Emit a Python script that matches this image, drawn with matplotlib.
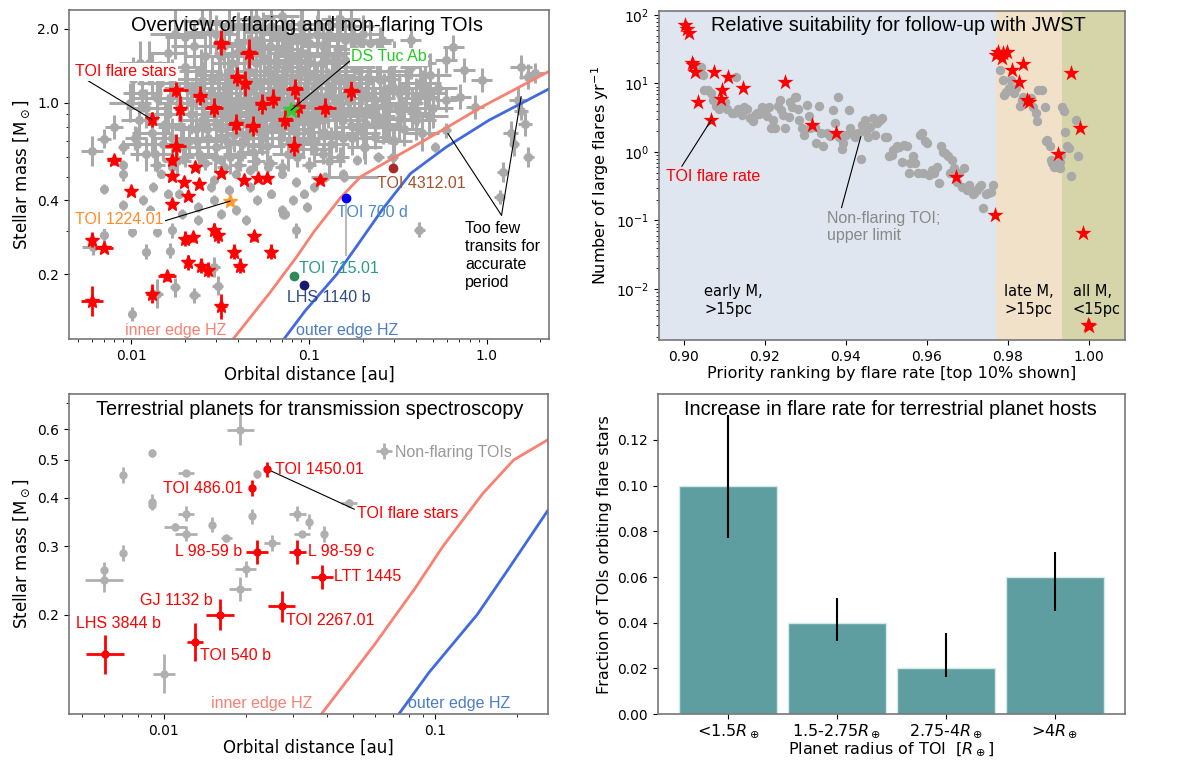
import numpy as np
import matplotlib.pyplot as plt
from matplotlib.ticker import FixedLocator, FixedFormatter, NullFormatter

# ----------------------------
# DATA: overview of flaring and non-flaring TOIs (top left)
# orbital distance [au], stellar mass [Msun], errors in units of 0.01 dex
# ----------------------------
grey_a = [
    0.0060, 0.0080, 0.0090, 0.0070, 0.0090, 0.0090, 0.0070, 0.0090, 0.00607, 0.0070,
    0.0101, 0.0121, 0.0101, 0.0140, 0.0226, 0.0176, 0.0306, 0.0292, 0.0164, 0.0140,
    0.0168, 0.0193, 0.0238, 0.0238, 0.0292, 0.0321, 0.0386, 0.0443, 0.0509, 0.0613,
    0.0703, 0.0847, 0.0711, 0.0465, 0.0352, 0.0279, 0.0292, 0.0386, 0.0465, 0.0585,
    0.0703, 0.0847, 0.093, 0.1066, 0.0809, 0.0973, 0.0736, 0.0243, 0.0321, 0.0168,
    0.0146, 0.0133, 0.0160, 0.0116, 0.0127, 0.0185, 0.1225, 0.1545, 0.186, 0.245,
    0.295, 0.417, 0.514, 0.590, 1.18, 1.23, 1.36, 1.49, 1.56, 1.71,
    1.87, 1.56, 1.42, 1.71, 1.64, 0.937, 0.745, 0.86, 0.71, 0.59,
    0.469, 0.43, 0.372, 0.295, 0.59, 0.647, 0.45, 0.2566, 0.372, 0.195,
    0.25, 0.295, 0.234, 0.32, 0.407, 0.27, 0.234, 0.204, 0.295, 0.186,
    0.245, 0.158,
    0.012, 0.013, 0.014, 0.015, 0.016, 0.017, 0.018, 0.019, 0.020, 0.021,
    0.022, 0.023, 0.024, 0.025, 0.026, 0.027, 0.028, 0.029, 0.030, 0.031,
    0.032, 0.033, 0.034, 0.035, 0.036, 0.037, 0.038, 0.039, 0.040, 0.042,
    0.043, 0.044, 0.045, 0.046, 0.048, 0.049, 0.050, 0.052, 0.053, 0.055,
    0.056, 0.058, 0.060, 0.062, 0.063, 0.065, 0.067, 0.069, 0.070, 0.072,
    0.074, 0.076, 0.078, 0.080, 0.082, 0.085, 0.087, 0.089, 0.092, 0.095,
    0.098, 0.100, 0.104, 0.107, 0.110, 0.114, 0.118, 0.122, 0.126, 0.130,
    0.135, 0.140, 0.145, 0.150, 0.156, 0.162, 0.170, 0.178, 0.186, 0.195,
    0.205, 0.215, 0.225, 0.24, 0.26, 0.28, 0.30, 0.33, 0.36, 0.40,
    0.45, 0.50, 0.016, 0.020, 0.025, 0.030, 0.035, 0.040, 0.045, 0.050,
    0.055, 0.060, 0.065, 0.070, 0.075, 0.080, 0.090, 0.100, 0.110, 0.120,
    0.130, 0.140, 0.160, 0.180, 0.200, 0.220, 0.012, 0.013, 0.011, 0.0115,
    0.0105, 0.014, 0.020, 0.026, 0.033, 0.040, 0.050, 0.060, 0.070, 0.085,
    0.100, 0.120, 0.150, 0.017, 0.023, 0.030, 0.036, 0.041, 0.047, 0.054,
    0.061, 0.068, 0.077, 0.086, 0.094, 0.105, 0.116, 0.128, 0.142, 0.155,
    0.175, 0.190, 0.210, 0.230, 0.250, 0.270, 0.290, 0.320, 0.350, 0.380,
    0.420, 0.470, 0.025, 0.050, 0.090, 0.150, 0.040, 0.070,
    0.0125, 0.0135, 0.0145, 0.0155, 0.0165, 0.0175, 0.0185, 0.0195, 0.0205, 0.0215,
    0.0225, 0.0235, 0.0245, 0.0255, 0.0265, 0.0275, 0.0285, 0.0295, 0.0305, 0.0315,
    0.0325, 0.0335, 0.0345, 0.0355, 0.0365, 0.0375, 0.0385, 0.0395, 0.041, 0.043,
    0.045, 0.047, 0.049, 0.051, 0.053, 0.055, 0.057, 0.059, 0.061, 0.064,
    0.066, 0.068, 0.071, 0.073, 0.075, 0.079, 0.081, 0.084, 0.088, 0.091,
    0.093, 0.096, 0.099, 0.102, 0.106, 0.109, 0.112, 0.116, 0.120, 0.124,
    0.128, 0.133, 0.138, 0.143, 0.148, 0.154, 0.160, 0.166, 0.172, 0.180,
    0.190, 0.200, 0.210, 0.220, 0.235, 0.25, 0.265, 0.28, 0.30, 0.32,
    0.34, 0.37, 0.40, 0.43, 0.48, 0.53, 0.0098, 0.0102, 0.0108, 0.0112,
]
grey_m = [
    0.637, 0.798, 0.661, 0.715, 0.557, 0.515, 0.447, 0.382, 0.258, 0.288,
    0.297, 0.247, 0.138, 0.167, 0.164, 0.177, 0.180, 0.214, 0.250, 0.297,
    0.302, 0.353, 0.332, 0.376, 0.401, 0.353, 0.365, 0.332, 0.401, 0.427,
    0.365, 0.302, 0.353, 0.454, 0.440, 0.454, 0.483, 0.515, 0.531, 0.548,
    0.515, 0.476, 0.427, 0.454, 0.401, 0.376, 0.353, 0.602, 0.583, 0.548,
    0.515, 0.454, 0.427, 0.401, 0.365, 0.427, 0.499, 0.515, 0.583, 0.602,
    0.602, 0.304, 0.661, 0.773, 0.413, 0.523, 0.750, 1.03, 1.40, 1.28,
    1.32, 0.93, 0.68, 0.60, 0.82, 1.24, 1.36, 0.963, 1.06, 1.03,
    1.06, 1.21, 1.40, 1.49, 1.49, 1.69, 1.45, 1.80, 1.80, 1.75,
    1.24, 1.16, 1.03, 0.93, 0.905, 0.798, 0.727, 0.661, 0.705, 0.798,
    0.877, 0.50,
    0.62, 0.75, 1.05, 0.68, 0.90, 1.25, 0.58, 0.80, 1.40, 0.70,
    1.00, 1.15, 0.62, 0.85, 1.55, 0.72, 1.10, 0.95, 0.66, 1.30,
    0.78, 1.70, 0.88, 1.05, 0.60, 1.45, 0.74, 1.20, 0.92, 0.68,
    1.60, 0.82, 1.10, 1.35, 0.63, 0.98, 1.80, 0.76, 1.22, 0.88,
    1.50, 0.67, 1.05, 0.80, 1.30, 0.95, 1.65, 0.72, 1.15, 0.86,
    1.40, 0.62, 1.00, 1.25, 0.78, 1.55, 0.90, 1.10, 0.70, 1.35,
    0.84, 1.75, 1.00, 0.65, 1.20, 0.92, 1.45, 0.76, 1.08, 0.58,
    1.30, 0.88, 1.60, 1.00, 0.72, 1.20, 0.93, 1.40, 0.80, 1.10,
    0.66, 1.28, 0.95, 1.50, 0.82, 1.15, 0.70, 1.00, 1.30, 0.85,
    1.10, 0.95, 1.60, 1.85, 1.20, 1.90, 1.30, 1.75, 1.55, 1.45,
    1.95, 1.70, 1.20, 1.90, 1.60, 1.85, 1.60, 1.45, 1.90, 1.70,
    1.90, 1.35, 1.80, 1.65, 1.90, 1.75, 0.95, 1.30, 0.85, 1.10,
    0.72, 0.56, 0.60, 0.57, 0.55, 0.56, 0.58, 0.57, 0.55, 0.60,
    0.56, 0.62, 0.60, 0.72, 0.78, 0.82, 0.95, 1.02, 0.85, 0.72,
    0.92, 1.05, 0.82, 0.68, 0.97, 0.85, 1.05, 0.95, 0.74, 0.85,
    0.72, 0.90, 0.82, 1.05, 1.25, 0.98, 1.35, 0.86, 1.15, 0.95,
    1.20, 0.88, 2.15, 2.20, 2.10, 2.20, 2.05, 2.25,
    1.45, 0.62, 1.20, 0.82, 1.05, 1.90, 1.00, 0.66, 1.15, 0.90,
    1.70, 0.70, 1.35, 1.00, 0.78, 1.95, 1.25, 0.60, 1.05, 1.55,
    0.92, 1.15, 0.70, 2.10, 1.20, 0.85, 1.00, 1.60, 0.62, 1.25,
    0.75, 2.00, 1.15, 0.90, 1.65, 1.05, 0.78, 1.35, 2.05, 0.92,
    1.45, 0.80, 1.25, 1.80, 0.95, 1.50, 1.10, 0.75, 1.30, 2.00,
    0.88, 1.15, 1.55, 0.72, 1.30, 0.95, 2.10, 1.25, 0.85, 1.55,
    1.15, 0.68, 1.05, 1.85, 1.25, 0.90, 1.50, 1.05, 2.05, 1.15,
    1.35, 0.75, 1.05, 1.45, 0.88, 1.65, 1.10, 0.80, 1.45, 1.10,
    0.78, 1.55, 1.05, 0.75, 1.30, 1.15, 1.00, 1.25, 0.68, 1.45,
]
grey_da = [
    6, 5, 3, 4, 2, 2, 1, 2, 6, 2,
    2, 2, 2, 3, 3, 3, 3, 3, 2, 2,
    2, 2, 2, 2, 2, 2, 2, 2, 2, 2,
    2, 2, 2, 2, 2, 2, 2, 2, 2, 2,
    2, 2, 2, 2, 2, 2, 2, 2, 2, 2,
    2, 2, 2, 2, 2, 2, 3, 2, 2, 3,
    3, 3, 2, 3, 3, 3, 4, 5, 6, 5,
    5, 4, 3, 3, 4, 6, 6, 5, 6, 6,
    6, 6, 6, 6, 6, 6, 6, 6, 6, 6,
    6, 6, 6, 6, 6, 6, 6, 5, 5, 6,
    6, 19,
    9, 11, 13, 10, 12, 11, 8, 13, 11, 10,
    12, 11, 9, 13, 12, 10, 13, 11, 9, 12,
    11, 12, 13, 11, 9, 12, 10, 13, 11, 10,
    12, 11, 13, 12, 9, 13, 12, 11, 13, 12,
    12, 10, 13, 11, 13, 12, 12, 10, 13, 11,
    12, 9, 13, 12, 11, 12, 13, 12, 10, 12,
    11, 12, 13, 10, 13, 12, 12, 11, 13, 9,
    12, 12, 12, 13, 11, 13, 12, 12, 11, 12,
    10, 12, 12, 12, 11, 12, 10, 12, 12, 11,
    12, 11, 11, 11, 12, 11, 12, 12, 12, 12,
    11, 12, 13, 11, 12, 12, 12, 12, 11, 12,
    11, 12, 12, 12, 11, 12, 11, 12, 10, 11,
    6, 4, 5, 4, 4, 4, 5, 4, 4, 5,
    4, 5, 5, 11, 12, 12, 13, 13, 12, 11,
    13, 13, 12, 10, 13, 12, 13, 12, 11, 12,
    11, 12, 11, 12, 12, 12, 12, 11, 12, 11,
    12, 11, 11, 11, 11, 11, 11, 10,
    12, 10, 13, 11, 12, 14, 11, 10, 13, 12,
    13, 10, 12, 11, 10, 13, 12, 9, 11, 13,
    12, 11, 10, 13, 12, 11, 12, 13, 10, 12,
    11, 13, 12, 11, 13, 12, 10, 12, 13, 11,
    12, 11, 12, 13, 11, 12, 12, 10, 12, 13,
    11, 12, 13, 10, 12, 11, 13, 12, 11, 12,
    12, 10, 11, 13, 12, 11, 12, 11, 13, 12,
    12, 10, 11, 12, 11, 13, 12, 10, 12, 11,
    10, 12, 11, 10, 12, 11, 12, 11, 9, 12,
]
grey_dm = [
    6, 5, 3, 4, 2, 3, 2, 2, 3, 3,
    2, 3, 3, 6, 3, 4, 4, 4, 3, 2,
    3, 2, 2, 2, 2, 2, 2, 2, 2, 2,
    2, 3, 2, 2, 2, 2, 2, 2, 2, 2,
    2, 2, 2, 2, 2, 2, 2, 2, 2, 2,
    2, 2, 2, 2, 2, 2, 2, 2, 2, 2,
    3, 3, 2, 3, 3, 4, 5, 5, 5, 5,
    4, 4, 5, 4, 5, 5, 5, 5, 5, 5,
    5, 5, 5, 5, 5, 5, 5, 5, 5, 5,
    5, 5, 5, 5, 5, 5, 5, 5, 5, 5,
    5, 2,
    7, 8, 9, 7, 8, 8, 6, 9, 8, 7,
    9, 8, 7, 8, 9, 7, 9, 8, 7, 9,
    8, 9, 8, 9, 7, 8, 7, 9, 8, 7,
    9, 8, 9, 8, 7, 9, 9, 8, 9, 8,
    9, 7, 9, 8, 9, 8, 9, 7, 9, 8,
    9, 7, 9, 8, 8, 9, 8, 9, 7, 9,
    8, 9, 9, 7, 9, 8, 9, 8, 9, 7,
    9, 8, 9, 9, 7, 9, 8, 9, 8, 9,
    7, 9, 8, 9, 8, 9, 7, 8, 9, 8,
    9, 8, 8, 8, 9, 8, 9, 8, 9, 9,
    8, 9, 9, 8, 9, 8, 9, 9, 8, 9,
    8, 9, 8, 9, 8, 9, 8, 9, 8, 8,
    5, 3, 4, 3, 3, 3, 4, 3, 3, 4,
    3, 4, 4, 8, 8, 8, 9, 9, 8, 7,
    9, 9, 8, 7, 9, 8, 9, 8, 7, 8,
    7, 8, 8, 9, 9, 8, 9, 8, 9, 8,
    9, 8, 6, 6, 6, 6, 6, 5,
    9, 7, 9, 8, 8, 10, 8, 7, 9, 8,
    9, 7, 9, 8, 7, 9, 9, 6, 8, 9,
    8, 8, 7, 9, 9, 8, 8, 9, 7, 9,
    7, 9, 8, 8, 9, 8, 7, 9, 9, 8,
    9, 8, 8, 9, 8, 9, 8, 7, 9, 9,
    8, 8, 9, 7, 9, 8, 9, 9, 8, 9,
    8, 7, 8, 9, 9, 8, 9, 8, 9, 8,
    9, 7, 8, 9, 8, 9, 8, 7, 9, 8,
    7, 9, 8, 7, 9, 8, 8, 9, 7, 9,
]

flare_a = [
    0.0321, 0.0458, 0.0394, 0.0437, 0.0177, 0.0243, 0.0188, 0.029, 0.0546, 0.0627,
    0.0828, 0.0867, 0.1226, 0.173, 0.0736, 0.0385, 0.048, 0.013, 0.0177, 0.0817,
    0.00794, 0.017, 0.0228, 0.0318, 0.017, 0.0428, 0.0514, 0.058, 0.1153, 0.0197,
    0.0239, 0.010, 0.0208, 0.017, 0.0060, 0.00697, 0.0199, 0.0221, 0.029, 0.0306,
    0.0487, 0.0377, 0.0607, 0.0208, 0.0247, 0.027, 0.0407, 0.0159, 0.013, 0.0060, 0.0321,
]
flare_m = [
    1.76, 1.59, 1.28, 1.20, 1.13, 1.07, 0.948, 0.957, 0.99, 1.04,
    1.14, 0.96, 0.957, 1.12, 0.855, 0.819, 0.803, 0.857, 0.667, 0.666,
    0.587, 0.583, 0.548, 0.518, 0.504, 0.486, 0.494, 0.494, 0.486, 0.476,
    0.469, 0.437, 0.418, 0.386, 0.277, 0.257, 0.279, 0.284, 0.302, 0.288,
    0.286, 0.247, 0.247, 0.224, 0.217, 0.209, 0.217, 0.196, 0.167, 0.156, 0.148,
]
flare_da = [
    5, 5, 4, 3, 7, 4, 3, 5, 4, 4,
    5, 4, 6, 5, 4, 4, 4, 2, 6, 3,
    4, 2, 1, 2, 2, 2, 2, 2, 2, 2,
    2, 2, 2, 2, 2, 5, 2, 2, 2, 2,
    2, 2, 2, 2, 2, 2, 3, 5, 3, 6, 3,
]
flare_dm = [
    5, 6, 4, 5, 3, 4, 5, 4, 4, 4,
    4, 4, 4, 4, 4, 4, 4, 3, 5, 4,
    2, 2, 1, 1, 1, 1, 1, 1, 1, 1,
    1, 1, 1, 1, 3, 1, 3, 2, 3, 3,
    2, 3, 3, 3, 3, 3, 3, 2, 4, 6, 5,
]

# habitable zone edges
hz_in_a = [0.034, 0.060, 0.0848, 0.107, 0.150, 0.195, 0.59, 0.93, 2.4]
hz_in_m = [0.100, 0.168, 0.235, 0.300, 0.410, 0.500, 0.79, 0.96, 1.38]
hz_out_a = [0.066, 0.095, 0.143, 0.185, 0.26, 0.372, 0.59, 1.03, 2.4]
hz_out_m = [0.100, 0.142, 0.200, 0.260, 0.37, 0.515, 0.66, 0.85, 1.17]

# highlighted systems (a, M)
ds_tuc = (0.079, 0.933)
toi_1224 = (0.036, 0.398)
toi_4312 = (0.297, 0.54)
toi_700d = (0.161, 0.408)
toi_715 = (0.0817, 0.196)
lhs_1140 = (0.094, 0.181)

# ----------------------------
# DATA: JWST suitability (top right)
# ----------------------------
rank_grey = [
    .9030, .9042, .9048, .9051, .9059, .9068, .9073, .9080, .9086, .9095,
    .9102, .9106, .9118, .9125, .9130, .9135, .9143, .9149, .9156, .9164,
    .9171, .9175, .9181, .9187, .9192, .9200, .9206, .9211, .9216, .9221,
    .9225, .9232, .9238, .9240, .9245, .9251, .9259, .9263, .9268, .9274,
    .9278, .9282, .9285, .9292, .9297, .9304, .9308, .9311, .9325, .9327,
    .9335, .9339, .9344, .9354, .9361, .9368, .9373, .9380, .9384, .9390,
    .9394, .9401, .9409, .9411, .9415, .9422, .9430, .9437, .9441, .9447,
    .9451, .9456, .9460, .9466, .9472, .9477, .9485, .9489, .9496, .9502,
    .9506, .9513, .9517, .9523, .9527, .9532, .9539, .9544, .9551, .9555,
    .9559, .9565, .9570, .9577, .9582, .9587, .9591, .9596, .9601, .9606,
    .9612, .9618, .9625, .9631, .9634, .9639, .9646, .9653, .9658, .9663,
    .9667, .9675, .9679, .9686, .9691, .9698, .9703, .9707, .9713, .9717,
    .9724, .9729, .9734, .9739, .9745, .9751, .9758, .9764, .9781, .9789,
    .9791, .9796, .9802, .9808, .9815, .9819, .9829, .9834, .9838, .9848,
    .9857, .9862, .9869, .9872, .9875, .9884, .9891, .9897, .9894, .9905,
    .9910, .9914, .9922, .9929, .9933, .9938, .9941, .9945, .9952, .9957,
    .9967, .9973, .9929, .9907, .9932,
]
rate_grey = [
    18.6, 17.6, 13.3, 8.0, 8.0, 7.2, 5.7, 4.7, 4.3, 4.6,
    5.4, 4.3, 3.7, 3.7, 12.6, 4.3, 3.5, 4.6, 4.3, 3.1,
    2.8, 3.5, 3.7, 3.6, 4.6, 3.7, 3.3, 4.6, 2.2, 2.9,
    2.2, 4.7, 5.7, 4.1, 3.5, 2.2, 3.2, 5.4, 4.6, 6.4,
    6.4, 4.3, 2.9, 2.2, 1.77, 4.9, 3.3, 2.2, 2.3, 1.34,
    4.7, 1.87, 1.20, 1.87, 1.71, 4.1, 2.6, 6.3, 1.67, 1.09,
    1.34, 1.77, 4.1, 2.2, 1.87, 1.67, 1.87, 0.78, 2.5, 2.9,
    1.98, 1.67, 2.3, 3.1, 1.77, 2.6, 2.9, 3.1, 1.67, 1.64,
    0.86, 0.90, 1.07, 1.13, 1.20, 1.17, 0.72, 1.26, 1.20, 0.49,
    0.68, 0.86, 0.68, 0.49, 1.77, 1.87, 0.49, 1.42, 1.34, 0.46,
    0.55, 0.49, 0.61, 0.35, 1.20, 1.01, 0.96, 0.86, 0.49, 0.76,
    0.58, 0.37, 0.49, 0.31, 0.58, 0.28, 0.33, 0.28, 0.24, 0.25,
    0.28, 0.31, 0.33, 0.15, 0.24, 0.25, 0.26, 0.33, 15.7, 11.2,
    6.8, 7.6, 8.5, 11.2, 7.2, 8.5, 4.7, 5.7, 6.4, 6.1,
    6.1, 4.6, 3.7, 2.8, 8.0, 8.0, 4.6, 1.50, 1.42, 1.20,
    0.68, 0.61, 0.61, 0.58, 4.6, 3.9, 1.98, 1.20, 1.13, 0.44,
    2.9, 0.86, 0.72, 0.76, 0.90,
]
rank_flare = [
    0.9002, 0.9013, 0.9008, 0.9021, 0.9023, 0.9029, 0.9035, 0.9075, 0.9068, 0.9095,
    0.9092, 0.9110, 0.9146, 0.9249, 0.9316, 0.9377, 0.9672, 0.9767, 0.9775, 0.9770,
    0.9789, 0.9799, 0.9786, 0.9837, 0.9810, 0.9827, 0.9851, 0.9848, 0.9924, 0.9957,
    0.9979, 0.9986, 0.9998, 1.0001,
]
rate_flare = [
    71, 54, 62, 20.1, 18.6, 14.9, 5.4, 14.9, 2.93, 8.0,
    5.9, 12.2, 8.5, 10.6, 2.45, 1.91, 0.437, 0.120, 29.2, 26,
    27.6, 28.5, 23.3, 19.0, 15.7, 10.6, 5.4, 5.7, 0.935, 14.4,
    2.21, 0.065, 0.0030, 0.0029,
]
class_edges = [0.8939, 0.977, 0.9934, 1.0088]
class_labels = ['early M,\n>15pc', 'late M,\n>15pc', 'all M,\n<15pc']
class_label_x = [0.9051, 0.9791, 0.9960]
class_colors = ['#dfe6ef', '#f2e1c9', '#d6d5a9']

# ----------------------------
# DATA: terrestrial planets (bottom left)
# ----------------------------
bl_grey_a = [0.0191, 0.00905, 0.00706, 0.0121, 0.0221, 0.00905, 0.00905, 0.0121, 0.0110, 0.0121,
             0.0151, 0.0170, 0.0211, 0.0311, 0.0344, 0.0323, 0.0391, 0.0251, 0.0483, 0.00706,
             0.0060, 0.0060, 0.0200, 0.0191, 0.0100]
bl_grey_m = [0.598, 0.520, 0.457, 0.463, 0.460, 0.390, 0.383, 0.364, 0.337, 0.323,
             0.341, 0.314, 0.358, 0.364, 0.347, 0.322, 0.322, 0.306, 0.388, 0.288,
             0.261, 0.245, 0.262, 0.233, 0.141]
bl_grey_da = [5, 0, 0, 3, 0, 0, 0, 3, 4, 4,
              0, 2, 0, 3, 0, 3, 0, 3, 3, 0,
              0, 7, 4, 4, 4]
bl_grey_dm = [4, 1, 2, 0, 1, 2, 0, 2, 1, 2,
              2, 1, 2, 2, 2, 0, 2, 2, 1, 2,
              2, 3, 2, 3, 5]

planet_names = ['TOI 1450.01', 'TOI 486.01', 'L 98-59 b', 'L 98-59 c', 'LTT 1445',
                'TOI 2267.01', 'GJ 1132 b', 'TOI 540 b', 'LHS 3844 b']
planet_a = [0.0241, 0.0211, 0.0221, 0.0311, 0.0382, 0.0272, 0.0161, 0.0130, 0.00605]
planet_m = [0.473, 0.423, 0.29, 0.29, 0.25, 0.21, 0.20, 0.170, 0.158]
planet_da = [1, 1, 4, 3, 4, 5, 5, 3, 7]
planet_dm = [2, 2, 3, 3, 3, 4, 4, 5, 5]

# ----------------------------
# DATA: flare fraction vs planet radius (bottom right)
# ----------------------------
radius_bins = [r'<1.5$R_\oplus$', r'1.5-2.75$R_\oplus$', r'2.75-4$R_\oplus$', r'>4$R_\oplus$']
flare_frac = [0.10, 0.04, 0.02, 0.06]
frac_low = [0.077, 0.032, 0.016, 0.045]
frac_high = [0.131, 0.051, 0.0355, 0.0708]


def dex_err(v, d):
    v = np.asarray(v, float)
    d = np.asarray(d, float) / 100.0
    return np.vstack([v - v / 10**d, v * 10**d - v])


plt.rcParams['font.family'] = 'DejaVu Sans'
ANN = ['Liberation Sans', 'DejaVu Sans']
GREY = '#a9a9a9'
TSIZE = 14.3

fig = plt.figure(figsize=(11.84, 7.63), dpi=100)
ax1 = fig.add_axes([0.0583, 0.5557, 0.4054, 0.4312])
ax2 = fig.add_axes([0.5566, 0.5544, 0.3932, 0.4312])
ax3 = fig.add_axes([0.0583, 0.0642, 0.4042, 0.4194])
ax4 = fig.add_axes([0.5556, 0.0642, 0.3944, 0.4190])

for ax in (ax1, ax2, ax3, ax4):
    for s in ax.spines.values():
        s.set_color('#777777')
        s.set_linewidth(1.2)
    ax.tick_params(labelsize=10)

line = dict(arrowstyle='-', color='black', lw=0.8, shrinkA=0, shrinkB=0)
wbox = dict(boxstyle='square,pad=0.1', fc='white', ec='none')

# ----------------------------
# TOP LEFT
# ----------------------------
ax1.set_xscale('log')
ax1.set_yscale('log')
ax1.errorbar(grey_a, grey_m, xerr=dex_err(grey_a, grey_da), yerr=dex_err(grey_m, grey_dm),
             fmt='o', ms=5.5, color=GREY, elinewidth=2.2, capsize=0, zorder=1)
ax1.errorbar(flare_a, flare_m, xerr=dex_err(flare_a, flare_da), yerr=dex_err(flare_m, flare_dm),
             fmt='*', ms=10, color='red', elinewidth=2, capsize=0, zorder=3)
ax1.plot(hz_in_a, hz_in_m, color='salmon', lw=2, zorder=2)
ax1.plot(hz_out_a, hz_out_m, color='royalblue', lw=2, zorder=2)

ax1.errorbar([toi_700d[0]], [toi_700d[1]], yerr=[[0.17], [0.0]], fmt='o', ms=6,
             color='blue', ecolor='#bbbbbb', elinewidth=1.5, zorder=4)
ax1.plot(*toi_4312, 'o', ms=6, color='brown', zorder=4)
ax1.plot(*toi_715, 'o', ms=6, color='seagreen', zorder=4)
ax1.plot(*lhs_1140, 'o', ms=6, color='midnightblue', zorder=4)
ax1.plot(*ds_tuc, '*', ms=12, color='#33cc33', zorder=5)
ax1.plot(*toi_1224, '*', ms=10, color='#ff9a33', zorder=5)

ax1.set_xlim(0.00445, 2.24)
ax1.set_ylim(0.109, 2.39)
ax1.xaxis.set_major_locator(FixedLocator([0.01, 0.1, 1.0]))
ax1.xaxis.set_major_formatter(FixedFormatter(['0.01', '0.1', '1.0']))
ax1.xaxis.set_minor_formatter(NullFormatter())
ax1.yaxis.set_major_locator(FixedLocator([0.2, 0.4, 1.0, 2.0]))
ax1.yaxis.set_major_formatter(FixedFormatter(['0.2', '0.4', '1.0', '2.0']))
ax1.yaxis.set_minor_formatter(NullFormatter())
ax1.set_xlabel('Orbital distance [au]', fontsize=12, labelpad=2)
ax1.set_ylabel(r'Stellar mass [M$_\odot$]', fontsize=12)
ax1.text(0.496, 0.954, 'Overview of flaring and non-flaring TOIs', transform=ax1.transAxes,
         ha='center', va='center', fontsize=TSIZE, family=ANN, zorder=6)

ax1.annotate('TOI flare stars', xy=(0.013, 0.857), xytext=(0.00482, 1.34), color='red',
             fontsize=11.5, family=ANN, ha='left', va='center', bbox=wbox, zorder=6,
             arrowprops=dict(line, relpos=(0.1, 0.0)))
ax1.annotate('DS Tuc Ab', xy=ds_tuc, xytext=(0.1725, 1.54), color='#22cc22',
             fontsize=11.5, family=ANN, ha='left', va='center', bbox=wbox, zorder=6,
             arrowprops=dict(line, relpos=(0.0, 0.3)))
ax1.annotate('TOI 1224.01', xy=toi_1224, xytext=(0.00482, 0.334), color='#ff8c2a',
             fontsize=11.5, family=ANN, ha='left', va='center', bbox=wbox, zorder=6,
             arrowprops=dict(line, relpos=(1.0, 0.4)))
ax1.text(0.24, 0.471, 'TOI 4312.01', color='sienna', fontsize=11.5, family=ANN, va='center')
ax1.text(0.144, 0.356, 'TOI 700 d', color='#4a86c8', fontsize=11.5, family=ANN, va='center')
ax1.text(0.088, 0.211, 'TOI 715.01', color='#2a9a8a', fontsize=11.5, family=ANN, va='center')
ax1.text(0.0747, 0.161, 'LHS 1140 b', color='#2f4a7a', fontsize=11.5, family=ANN, va='center')
ax1.text(0.0344, 0.118, 'inner edge HZ', color='salmon', fontsize=11.5, family=ANN,
         ha='right', va='center')
ax1.text(0.0847, 0.118, 'outer edge HZ', color='#4a7cc8', fontsize=11.5, family=ANN,
         ha='left', va='center')
ax1.text(0.755, 0.33, 'Too few\ntransits for\naccurate\nperiod', fontsize=11.5, family=ANN,
         ha='left', va='top', linespacing=1.25)
for tgt in [(0.604, 0.75), (1.56, 1.06)]:
    ax1.annotate('', xy=tgt, xytext=(1.21, 0.348), arrowprops=line)

# ----------------------------
# TOP RIGHT
# ----------------------------
ax2.set_yscale('log')
for lo, hi, c in zip(class_edges[:-1], class_edges[1:], class_colors):
    ax2.axvspan(lo, hi, color=c, lw=0, zorder=0)
ax2.scatter(rank_grey, rate_grey, s=46, color=GREY, zorder=2, linewidths=0)
ax2.scatter(rank_flare, rate_flare, s=150, marker='*', color='red', zorder=3, linewidths=0)
for x, lab in zip(class_label_x, class_labels):
    ax2.text(x, 0.12, lab, transform=ax2.get_xaxis_transform(), fontsize=10.5,
             ha='left', va='center')
ax2.set_xlim(class_edges[0], class_edges[-1])
ax2.set_ylim(0.0018, 114)
ax2.set_xticks([0.90, 0.92, 0.94, 0.96, 0.98, 1.00])
ax2.set_xticklabels(['0.90', '0.92', '0.94', '0.96', '0.98', '1.00'])
ax2.set_xlabel('Priority ranking by flare rate [top 10% shown]', fontsize=11.5, labelpad=2)
ax2.set_ylabel(r'Number of large flares yr$^{-1}$', fontsize=11.5)
ax2.text(0.515, 0.957, 'Relative suitability for follow-up with JWST', transform=ax2.transAxes,
         ha='center', va='center', fontsize=TSIZE, family=ANN, zorder=6)
ax2.annotate('TOI flare rate', xy=(0.9068, 2.93), xytext=(0.8956, 0.436), color='red',
             fontsize=11.5, family=ANN, ha='left', va='center',
             arrowprops=dict(line, relpos=(0.15, 1.0)))
ax2.annotate('Non-flaring TOI;\nupper limit', xy=(0.9437, 1.67), xytext=(0.9354, 0.081),
             color='#888888', fontsize=11.5, family=ANN, ha='left', va='center',
             arrowprops=dict(line, relpos=(0.12, 1.0)))

# ----------------------------
# BOTTOM LEFT
# ----------------------------
ax3.set_xscale('log')
ax3.set_yscale('log')
nf = ax3.errorbar(bl_grey_a, bl_grey_m, xerr=dex_err(bl_grey_a, bl_grey_da),
                  yerr=dex_err(bl_grey_m, bl_grey_dm), fmt='o', ms=5, color='#b0b0b0',
                  elinewidth=2, capsize=0, zorder=1)
ax3.errorbar(planet_a, planet_m, xerr=dex_err(planet_a, planet_da), yerr=dex_err(planet_m, planet_dm),
             fmt='o', ms=5, color='red', elinewidth=2, capsize=0, zorder=3)
ax3.plot(hz_in_a, hz_in_m, color='salmon', lw=2, zorder=2)
ax3.plot(hz_out_a, hz_out_m, color='royalblue', lw=2, zorder=2)

offsets = [(8, 0, 'left'), (-9, 0, 'right'), (-15, 0, 'right'), (11, 0, 'left'), (12, 0, 'left'),
           (4, -14, 'left'), (-7, 14, 'right'), (5, -13, 'left'), (-29, 31, 'left')]
for name, a, m, (dx, dy, ha) in zip(planet_names, planet_a, planet_m, offsets):
    ax3.annotate(name, xy=(a, m), xytext=(dx, dy), textcoords='offset pixels', color='red',
                 fontsize=11.5, family=ANN, ha=ha, va='center')
ax3.annotate('TOI flare stars', xy=(planet_a[0], planet_m[0]), xytext=(0.0516, 0.364),
             color='red', fontsize=11.5, family=ANN, ha='left', va='center',
             arrowprops=dict(line, relpos=(0.0, 0.7)))
ax3.text(0.0354, 0.118, 'inner edge HZ', color='salmon', fontsize=11.5, family=ANN,
         ha='right', va='center')
ax3.text(0.0796, 0.118, 'outer edge HZ', color='#4a7cc8', fontsize=11.5, family=ANN,
         ha='left', va='center')
leg = ax3.legend([nf], ['Non-flaring TOIs'], loc='center left', bbox_to_anchor=(0.615, 0.817),
                 frameon=False, handlelength=0.8, handletextpad=0.3, labelcolor='#999999',
                 prop={'family': ANN, 'size': 11.5})

ax3.set_xlim(0.00447, 0.26)
ax3.set_ylim(0.111, 0.739)
ax3.xaxis.set_major_locator(FixedLocator([0.01, 0.1]))
ax3.xaxis.set_major_formatter(FixedFormatter(['0.01', '0.1']))
ax3.xaxis.set_minor_formatter(NullFormatter())
ax3.yaxis.set_major_locator(FixedLocator([0.2, 0.3, 0.4, 0.5, 0.6]))
ax3.yaxis.set_major_formatter(FixedFormatter(['0.2', '0.3', '0.4', '0.5', '0.6']))
ax3.yaxis.set_minor_formatter(NullFormatter())
ax3.set_xlabel('Orbital distance [au]', fontsize=12, labelpad=1)
ax3.set_ylabel(r'Stellar mass [M$_\odot$]', fontsize=12)
ax3.text(0.503, 0.952, 'Terrestrial planets for transmission spectroscopy', transform=ax3.transAxes,
         ha='center', va='center', fontsize=TSIZE, family=ANN)

# ----------------------------
# BOTTOM RIGHT
# ----------------------------
xpos = np.arange(len(radius_bins))
frac = np.array(flare_frac)
yerr = [frac - np.array(frac_low), np.array(frac_high) - frac]
ax4.bar(xpos, frac, width=0.9, color='cadetblue', edgecolor='#d5e9e9', lw=1,
        yerr=yerr, error_kw=dict(ecolor='black', elinewidth=1.5, capsize=0))
ax4.set_xlim(-0.644, 3.64)
ax4.set_ylim(0, 0.140)
ax4.set_xticks(xpos)
ax4.set_xticklabels(radius_bins, fontsize=11.5)
ax4.tick_params(axis='x', pad=2)
ax4.set_yticks([0, 0.02, 0.04, 0.06, 0.08, 0.10, 0.12])
ax4.set_yticklabels(['0.00', '0.02', '0.04', '0.06', '0.08', '0.10', '0.12'])
ax4.set_xlabel(r'Planet radius of TOI  [$R_\oplus$]', fontsize=11.5, labelpad=0)
ax4.set_ylabel('Fraction of TOIs orbiting flare stars', fontsize=11.5)
ax4.text(0.497, 0.953, 'Increase in flare rate for terrestrial planet hosts', transform=ax4.transAxes,
         ha='center', va='center', fontsize=TSIZE, family=ANN)

fig.savefig('out.png', dpi=100)
